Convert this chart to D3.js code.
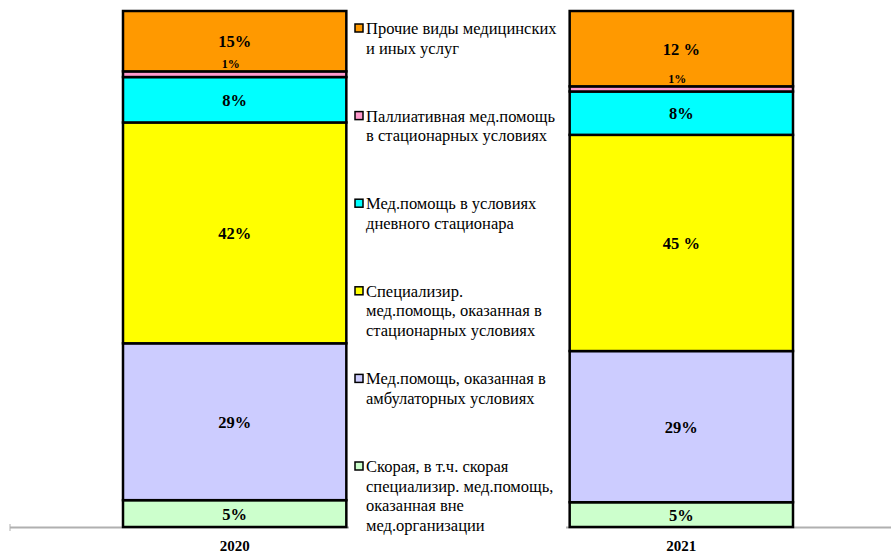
<!DOCTYPE html>
<html>
<head>
<meta charset="utf-8">
<script src="https://cdn.jsdelivr.net/npm/d3@7"></script>
<style>
  body { margin: 0; background: #fff; }
</style>
</head>
<body>
<svg id="chart" width="891" height="556"></svg>
<script>
// categories, bottom of the stack first
const years = ['2020', '2021'];
const keys = ['ambulance', 'outpatient', 'inpatient', 'dayHospital', 'palliative', 'other'];
const colors = ['#CCFFCC', '#CCCCFF', '#FFFF00', '#00FFFF', '#FF99CC', '#FF9900'];

// segment shares as drawn (%)
const values2020 = [5.2, 30.4, 42.8, 8.8, 1.1, 11.7];
const values2021 = [4.8, 29.3, 41.9, 8.4, 1.0, 14.6];
// printed labels
const labels2020 = ['5%', '29%', '42%', '8%', '1%', '15%'];
const labels2021 = ['5%', '29%', '45 %', '8%', '1%', '12 %'];

const legendLines = [
  ['Прочие виды медицинских', 'и иных услуг'],
  ['Паллиативная мед.помощь', 'в стационарных условиях'],
  ['Мед.помощь в условиях', 'дневного стационара'],
  ['Специализир.', 'мед.помощь, оказанная в', 'стационарных условиях'],
  ['Мед.помощь, оказанная в', 'амбулаторных условиях'],
  ['Скорая, в т.ч. скорая', 'специализир. мед.помощь,', 'оказанная вне', 'мед.организации']
];

const FONT = '"Liberation Serif", "Times New Roman", "DejaVu Serif", serif';

const svg = d3.select('#chart');

const rows = years.map((yr, i) => {
  const vals = i === 0 ? values2020 : values2021;
  const row = { year: yr };
  keys.forEach((k, j) => row[k] = vals[j]);
  return row;
});
const labelsBy = { '2020': labels2020, '2021': labels2021 };

const x = d3.scaleBand()
    .domain(years)
    .range([123, 793])
    .paddingInner(0.5)
    .paddingOuter(0);

const y = d3.scaleLinear()
    .domain([0, 100])
    .range([527, 11]);

const stacked = d3.stack().keys(keys)(rows);

// baseline
svg.append('line')
  .attr('x1', 10).attr('x2', 891)
  .attr('y1', 527.5).attr('y2', 527.5)
  .attr('stroke', '#b0b0b0').attr('stroke-width', 2);
svg.append('line')
  .attr('x1', 10).attr('x2', 10)
  .attr('y1', 524).attr('y2', 531)
  .attr('stroke', '#b0b0b0').attr('stroke-width', 1);

const layers = svg.selectAll('.layer')
  .data(stacked)
  .enter().append('g')
    .attr('class', 'layer')
    .attr('fill', (d, i) => colors[i]);

layers.selectAll('rect')
  .data(d => d)
  .enter().append('rect')
    .attr('x', d => x(d.data.year))
    .attr('y', d => y(d[1]))
    .attr('width', x.bandwidth())
    .attr('height', d => y(d[0]) - y(d[1]))
    .attr('stroke', '#000')
    .attr('stroke-width', 2.5);

// value labels
stacked.forEach((layer, i) => {
  layer.forEach(d => {
    const yr = d.data.year;
    const small = keys[i] === 'palliative';
    const cx = x(yr) + x.bandwidth() / 2;
    const cy = small ? y(d[1]) - 3 : (y(d[0]) + y(d[1])) / 2 + 6;
    svg.append('text')
      .attr('x', small ? cx - 4 : cx)
      .attr('y', cy)
      .attr('text-anchor', 'middle')
      .attr('font-family', FONT)
      .attr('font-weight', 'bold')
      .attr('font-size', small ? 12 : 16.5)
      .text(labelsBy[yr][i]);
  });
});

// legend (covers baseline between bars)
const legend = svg.append('g').attr('class', 'legend');
legend.append('rect')
  .attr('x', 349).attr('y', 0)
  .attr('width', 217).attr('height', 531)
  .attr('fill', '#fff');

legendLines.forEach((lines, i) => {
  const top = 28 + i * 87.6;
  const item = legend.append('g').attr('transform', `translate(355,${top})`);
  item.append('rect')
    .attr('x', 0).attr('y', -4)
    .attr('width', 8).attr('height', 8)
    .attr('fill', colors[keys.length - 1 - i])
    .attr('stroke', '#000').attr('stroke-width', 1.5);
  const t = item.append('text')
    .attr('x', 11).attr('y', 6)
    .attr('font-family', FONT)
    .attr('font-size', 16.5)
    .attr('fill', '#000');
  lines.forEach((ln, j) => {
    t.append('tspan')
      .attr('x', 11)
      .attr('dy', j === 0 ? 0 : 19.5)
      .text(ln);
  });
});

// year labels
const xAxis = svg.append('g')
  .attr('transform', 'translate(0,536)')
  .call(d3.axisBottom(x).tickSize(0).tickPadding(4));
xAxis.select('.domain').remove();
xAxis.selectAll('text')
  .attr('font-family', FONT)
  .attr('font-size', 15)
  .attr('font-weight', 'bold')
  .attr('fill', '#000');
</script>
</body>
</html>
